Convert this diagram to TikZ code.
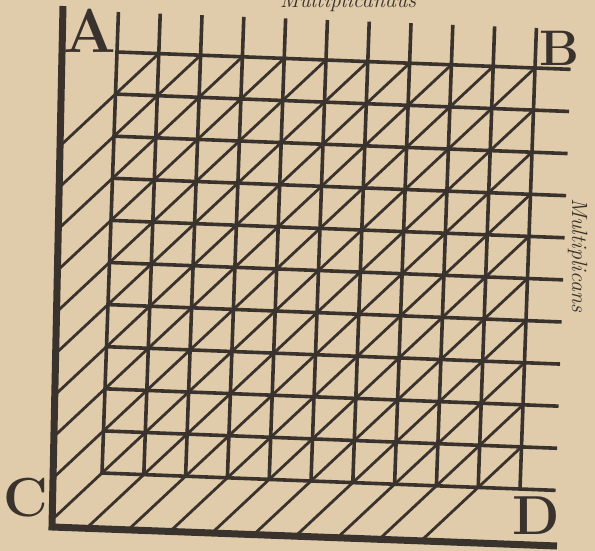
\documentclass[tikz,border=0pt]{standalone}
\definecolor{paper}{RGB}{224,204,170}
\definecolor{ink}{RGB}{58,50,44}
\tikzset{
  rule/.style={draw=ink, line width=7pt, line join=miter},
  gridline/.style={draw=ink, line width=3.6pt},
  slash/.style={draw=ink, line width=2.8pt},
  corner/.style={text=ink, font=\fontsize{55}{55}\selectfont\bfseries, inner sep=0pt},
  caption/.style={text=ink, font=\fontsize{22}{22}\selectfont\itshape, inner sep=0pt}
}
\begin{document}
\begin{tikzpicture}[x=1pt, y=-1pt]
  \fill[paper] (0,0) rectangle (595,551);
  \useasboundingbox (0,0) rectangle (595,551);
  \begin{scope}[shift={(117,52)}, x={(41.8pt,-1.6pt)}, y={(-1.5pt,-42.1pt)}]
    \foreach \j in {0,...,10}
      \draw[gridline] (0,\j) -- (10.85,\j);
    \foreach \i in {0,...,10}
      \draw[gridline] (\i,-0.95) -- (\i,10);
    \foreach \i in {0,...,9}
      \foreach \j in {0,...,9}
        \draw[slash] (\i,\j+1) -- (\i+1,\j);
  \end{scope}
  \begin{scope}
    \clip (63,0) -- (52,527) -- (560,546) -- (595,0) -- cycle;
    \begin{scope}[shift={(117,52)}, x={(41.8pt,-1.6pt)}, y={(-1.5pt,-42.1pt)}]
      \foreach \j in {1,...,10}
        \draw[slash] (0,\j) -- ++(-1.6,1.6);
      \foreach \i in {1,...,9}
        \draw[slash] (\i,10) -- ++(-1.6,1.6);
    \end{scope}
  \end{scope}
  \draw[rule] (63,6) -- (52,527) -- (557,546);
  \node[corner, font=\fontsize{62}{62}\selectfont\bfseries] (a) at (90,31) {A};
  \node[corner, font=\fontsize{50}{50}\selectfont\bfseries] (b) at (559,48) {B};
  \node[corner] (c) at (26,498) {C};
  \node[corner] (d) at (536,516) {D};
  \node[caption, anchor=base] (mand) at (348,8) {Multiplicandus};
  \node[caption, anchor=base, rotate=-90] (mans) at (572,255) {Multiplicans};
\end{tikzpicture}
\end{document}
